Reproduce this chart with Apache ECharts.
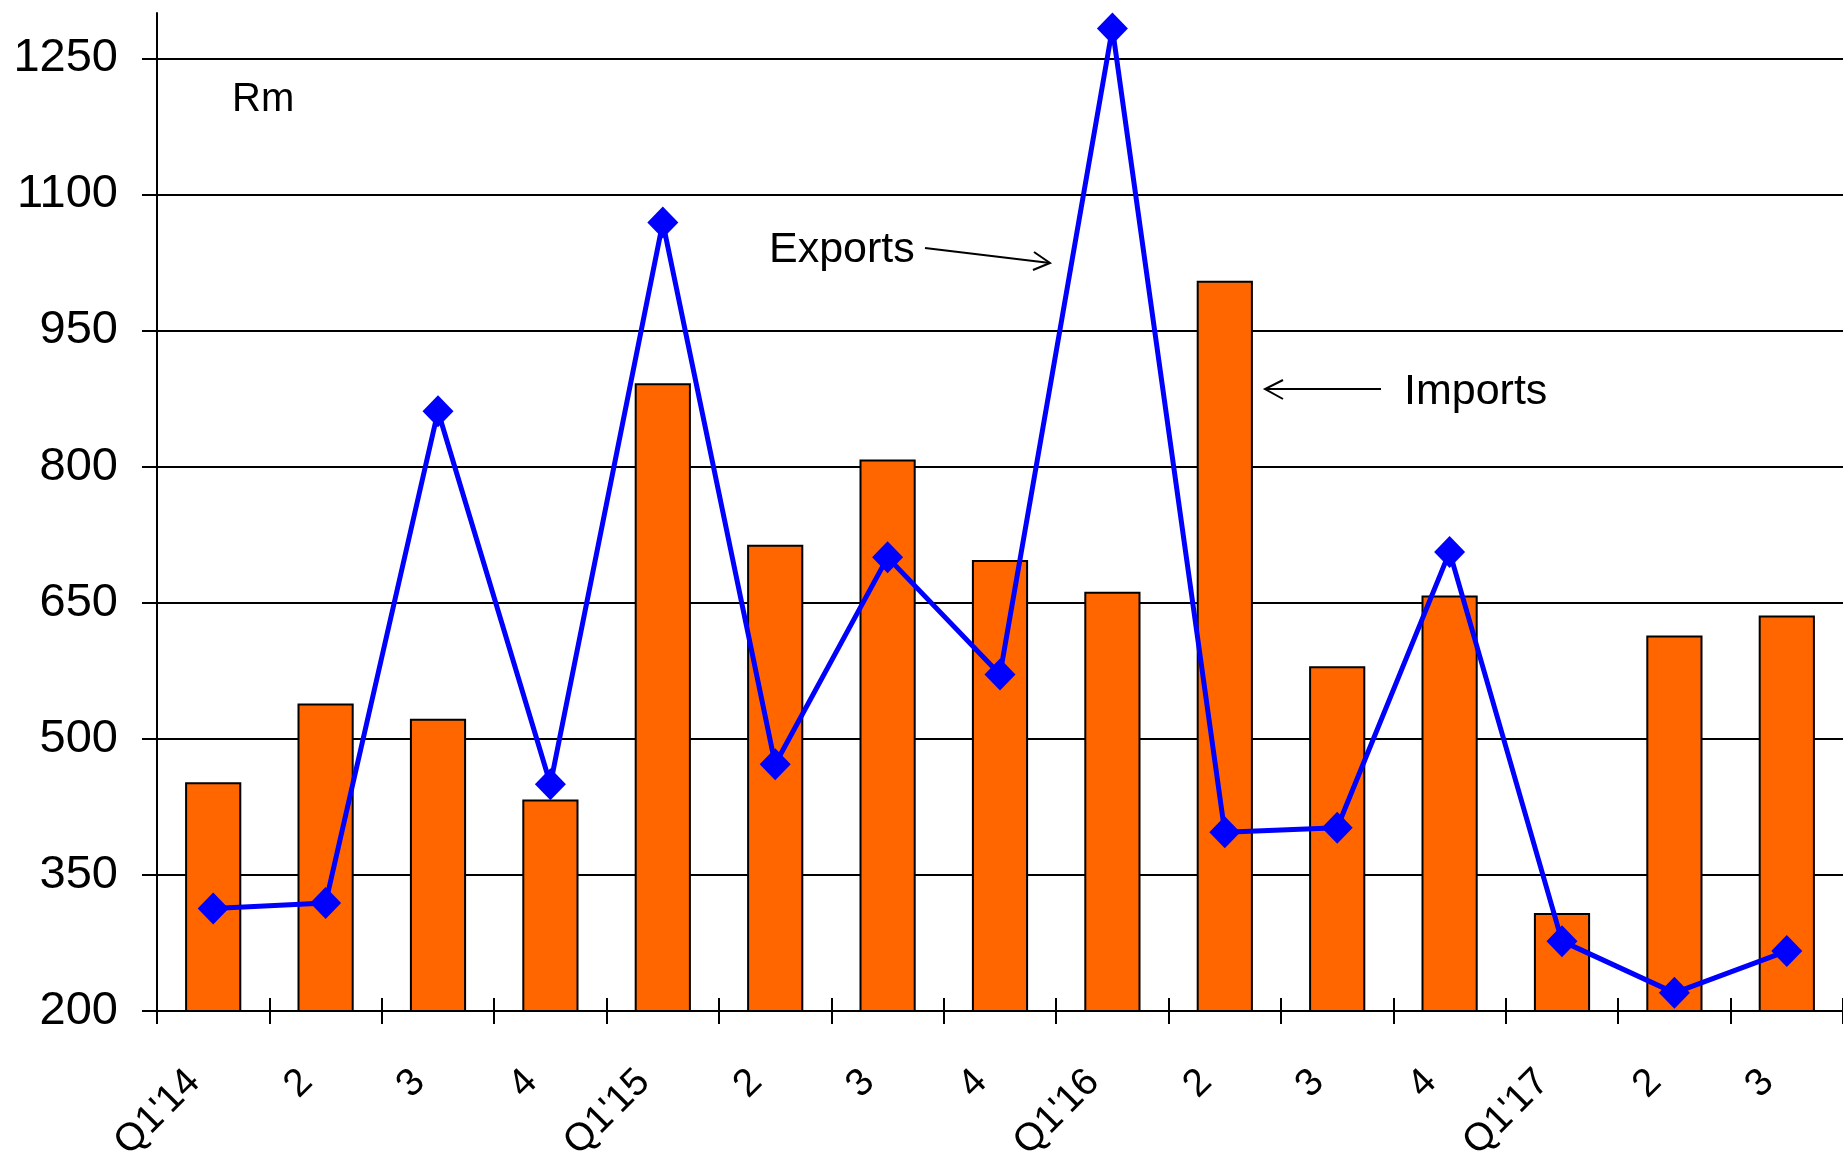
<!DOCTYPE html>
<html><head><meta charset="utf-8">
<script src="https://cdn.jsdelivr.net/npm/echarts@6/dist/echarts.min.js"></script>
<style>html,body{margin:0;padding:0;background:#fff}#c{width:1843px;height:1158px}</style>
</head><body><div id="c"></div>
<script>
const categories = ["Q1'14","2","3","4","Q1'15","2","3","4","Q1'16","2","3","4","Q1'17","2","3"];
const imports = [452, 539, 522, 433, 892, 714, 808, 697, 662, 1005, 580, 658, 308, 614, 636];
const exportsData = [313, 319, 861, 450, 1069, 472, 700, 571, 1283, 397, 402, 706, 277, 220, 266];
const Y_MIN = 200, Y_MAX = 1300, Y_TICK_MAX = 1250, Y_STEP = 150;

const W = 1843, H = 1158;
const G_LEFT = 157, G_RIGHT = 0, G_TOP = 13, G_BOTTOM = 147;
const gh = H - G_TOP - G_BOTTOM;
const tickTop = G_TOP + gh * (Y_MAX - Y_TICK_MAX) / (Y_MAX - Y_MIN);
const FONT = "'Liberation Sans', Arial, sans-serif";

const chart = echarts.init(document.getElementById('c'), null, {renderer: 'canvas'});
const option = {
  backgroundColor: '#fff',
  animation: false,
  grid: [
    {left: G_LEFT, right: G_RIGHT, top: G_TOP, bottom: G_BOTTOM, containLabel: false, outerBoundsMode: 'none'},
    {left: G_LEFT, right: G_RIGHT, top: tickTop, bottom: G_BOTTOM, containLabel: false, outerBoundsMode: 'none'}
  ],
  xAxis: [
    {type: 'category', gridIndex: 0, data: categories, boundaryGap: true,
     axisLine: {show: true, lineStyle: {color: '#000', width: 2}},
     axisTick: {show: true, inside: false, length: 13, alignWithLabel: false, interval: 0, lineStyle: {color: '#000', width: 2}},
     axisLabel: {show: true, interval: 0, rotate: 45, margin: 46, padding: [0, 27, 0, 0],
                 color: '#000', fontSize: 39, fontFamily: FONT, hideOverlap: false},
     splitLine: {show: false}},
    {type: 'category', gridIndex: 0, position: 'bottom', offset: 0, data: categories, boundaryGap: true,
     axisLine: {show: false},
     axisTick: {show: true, inside: true, length: 13, interval: 0, lineStyle: {color: '#000', width: 2}},
     axisLabel: {show: false}, splitLine: {show: false}},
    {type: 'category', gridIndex: 1, data: categories, show: false}
  ],
  yAxis: [
    {type: 'value', gridIndex: 0, min: Y_MIN, max: Y_MAX, interval: Y_STEP,
     axisLine: {show: true, lineStyle: {color: '#000', width: 2}},
     axisTick: {show: false}, axisLabel: {show: false}, splitLine: {show: false}},
    {type: 'value', gridIndex: 1, min: Y_MIN, max: Y_TICK_MAX, interval: Y_STEP,
     axisLine: {show: false},
     axisTick: {show: true, inside: false, length: 15, lineStyle: {color: '#000', width: 2}},
     axisLabel: {show: true, margin: 39, color: '#000', fontSize: 47, fontFamily: FONT,
                 formatter: v => String(v)},
     splitLine: {show: true, lineStyle: {color: '#000', width: 2, type: 'solid'}}},
    {type: 'value', gridIndex: 1, position: 'left', offset: 0, min: Y_MIN, max: Y_TICK_MAX, interval: Y_STEP,
     axisLine: {show: false},
     axisTick: {show: true, inside: true, length: 15, lineStyle: {color: '#000', width: 2}},
     axisLabel: {show: false}, splitLine: {show: false}}
  ],
  series: [
    {name: 'Imports', type: 'bar', xAxisIndex: 0, yAxisIndex: 0, data: imports, barWidth: '50%', z: 2,
     itemStyle: {color: '#FF6600', borderColor: '#000', borderWidth: 2}},
    {name: 'Exports', type: 'line', xAxisIndex: 0, yAxisIndex: 0, data: exportsData, z: 5,
     symbol: 'diamond', symbolSize: [31, 32], showAllSymbol: true,
     lineStyle: {color: '#0000FF', width: 5},
     itemStyle: {color: '#0000FF', borderWidth: 0}}
  ],
  graphic: [
    {type: 'text', left: 232, top: 100 - 20, z: 10,
     style: {text: 'Rm', font: '40px ' + FONT, fill: '#000'}},
    {type: 'text', left: 769, top: 251 - 22, z: 10,
     style: {text: 'Exports', font: '43px ' + FONT, fill: '#000'}},
    {type: 'text', left: 1404, top: 393 - 22, z: 10,
     style: {text: 'Imports', font: '43px ' + FONT, fill: '#000'}},
    {type: 'polyline', z: 10, shape: {points: [[925, 248], [1050, 263]]}, style: {stroke: '#000', lineWidth: 2, fill: null}},
    {type: 'polyline', z: 10, shape: {points: [[1034, 252], [1050, 263], [1033, 270]]}, style: {stroke: '#000', lineWidth: 2, fill: null}},
    {type: 'polyline', z: 10, shape: {points: [[1381, 389], [1265, 389]]}, style: {stroke: '#000', lineWidth: 2, fill: null}},
    {type: 'polyline', z: 10, shape: {points: [[1283, 380], [1265, 389], [1283, 399]]}, style: {stroke: '#000', lineWidth: 2, fill: null}}
  ]
};
chart.setOption(option);
</script>
</body></html>
